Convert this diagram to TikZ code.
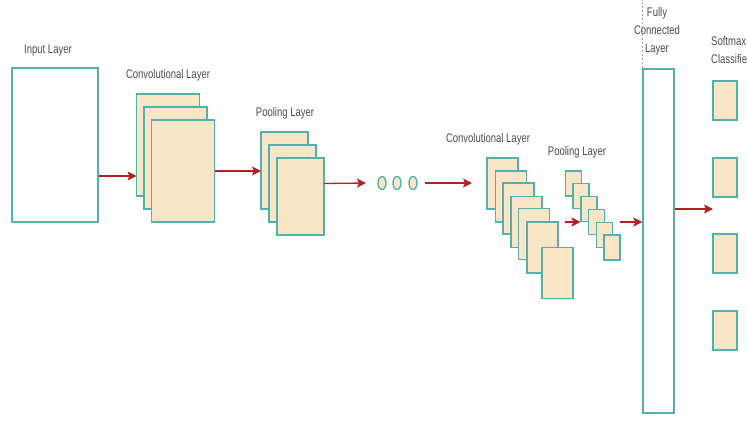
\documentclass[tikz,border=0pt]{standalone}
\usepackage{fontspec}
\setmainfont{Liberation Sans}
\newfontfamily\lblfont[FakeStretch=0.76]{Liberation Sans}
\usetikzlibrary{arrows.meta,shapes.geometric}
\definecolor{peach}{RGB}{250,229,199}
\definecolor{teal}{RGB}{84,176,172}
\definecolor{arrred}{RGB}{178,34,34}
\definecolor{txt}{RGB}{75,75,75}
\begin{document}
\begin{tikzpicture}[x=1pt,y=-1pt,
  fm/.style={draw=teal,fill=peach,line width=1.4pt,inner sep=0pt,outer sep=0pt},
  conva/.style={fm,minimum width=63pt,minimum height=102pt},
  poola/.style={fm,minimum width=47pt,minimum height=77pt},
  convb/.style={fm,minimum width=31pt,minimum height=51pt},
  poolb/.style={fm,minimum width=16pt,minimum height=25pt},
  smx/.style={fm,minimum width=24pt,minimum height=39pt},
  dot/.style={fm,ellipse,minimum width=8pt,minimum height=13pt},
  arr/.style={draw=arrred,line width=1.3pt,-{Stealth[length=9pt,width=9pt,inset=2pt]}},
  lbl/.style={text=txt,font=\lblfont\fontsize{12.5}{18}\selectfont,inner sep=0pt}]
\useasboundingbox (0,0) rectangle (747,421);
\fill[white] (0,0) rectangle (747,421);
% input
\node[draw=teal,fill=white,line width=1.4pt,minimum width=86pt,minimum height=154pt,inner sep=0pt] (in) at (55,145) {};
\node[lbl] (tin) at (48,50) {Input Layer};
% conv 1
\node[conva] (c1a) at (168,145) {};
\node[conva] (c1b) at (175.5,158) {};
\node[conva] (c1c) at (183,171) {};
\node[lbl] (tc1) at (168,75) {Convolutional Layer};
% pool 1
\node[poola] (p1a) at (284.5,170.5) {};
\node[poola] (p1b) at (292.5,183.5) {};
\node[poola] (p1c) at (300.5,196.5) {};
\node[lbl] (tp1) at (285,113) {Pooling Layer};
% dots
\node[dot] (d1) at (382,183) {};
\node[dot] (d2) at (397,183) {};
\node[dot] (d3) at (413,183) {};
% conv 2
\node[convb] (c2a) at (502.5,183.5) {};
\node[convb] (c2b) at (511,196.5) {};
\node[convb] (c2c) at (518.5,208.5) {};
\node[convb] (c2d) at (526.5,222) {};
\node[convb] (c2e) at (534,234) {};
\node[convb] (c2f) at (542.5,247.5) {};
\node[convb] (c2g) at (557.5,273) {};
\node[lbl] (tc2) at (488,139) {Convolutional Layer};
% pool 2
\node[poolb] (p2a) at (573.5,183.5) {};
\node[poolb] (p2b) at (581,196) {};
\node[poolb] (p2c) at (589,209) {};
\node[poolb] (p2d) at (596.5,222) {};
\node[poolb] (p2e) at (604.5,235) {};
\node[poolb] (p2f) at (612,247.5) {};
\node[lbl] (tp2) at (577,152) {Pooling Layer};
% fully connected
\node[draw=teal,fill=white,line width=1.4pt,minimum width=31pt,minimum height=344pt,inner sep=0pt] (fc) at (658.5,241) {};
\draw[gray!70,line width=0.5pt,dash pattern=on 2pt off 2pt] (fc.north west) -- (fc.north west |- 0,0);
\node[lbl,align=center,anchor=north] (tfc) at (657,7) {Fully\\Connected\\Layer};
% softmax
\node[smx] (s1) at (725,100.5) {};
\node[smx] (s2) at (725,177.5) {};
\node[smx] (s3) at (725,253.5) {};
\node[smx] (s4) at (725,330.5) {};
\node[lbl,align=left,anchor=north west] (tsm) at (711,36) {Softmax\\Classifier};
% arrows
\draw[arr] ([yshift=-31pt]in.east) -- ([yshift=-31pt]c1a.west);
\draw[arr] (c1c.east) -- (c1c.east -| p1a.west);
\draw[arr] (p1c.east |- p1b.east) -- ([xshift=-12pt]d1.west);
\draw[arr] ([xshift=8pt]d3.east) -- ([xshift=-15pt]c2a.west |- d3.east);
\coordinate (a5s) at ([xshift=-24pt]p2d.west);
\draw[arr] (a5s) -- ([xshift=-8pt]p2d.west);
\draw[arr] (p2d.east -| p2f.east) -- (p2d.east -| fc.west);
\draw[arr] ([yshift=32pt]fc.east) -- ([yshift=32pt]fc.east -| s1.west);
\end{tikzpicture}
\end{document}
